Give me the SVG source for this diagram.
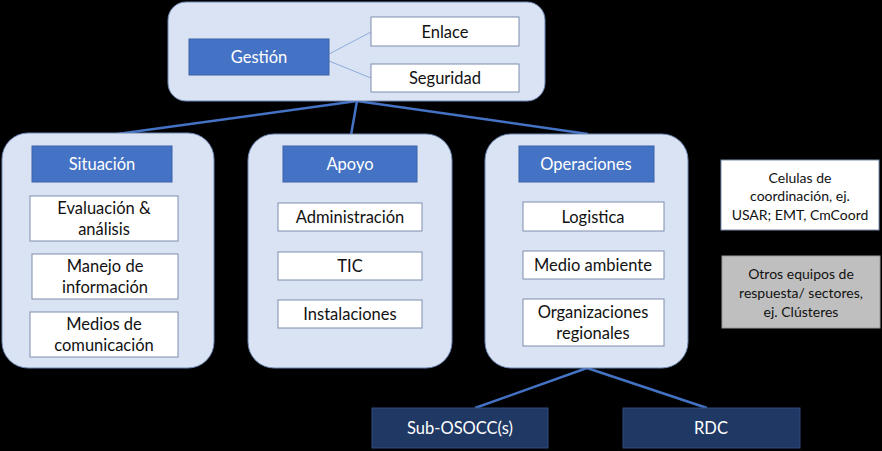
<svg xmlns="http://www.w3.org/2000/svg" width="882" height="451" viewBox="0 0 882 451">
<style>
.cont{fill:#dae3f3;stroke:#6f86b3;stroke-width:1}
.hdr{fill:#4472c4;stroke:#3a62a8;stroke-width:1}
.box{fill:#ffffff;stroke:#7c8eae;stroke-width:1}
.gray{fill:#bfbfbf;stroke:#9a9a9a;stroke-width:1}
.navy{fill:#203864;stroke:#2f4b7c;stroke-width:1}
text{font-family:Lato,"Open Sans","Liberation Sans",sans-serif;text-anchor:middle;dominant-baseline:central}
.t{font-size:16.5px;fill:#111}
.w{font-size:16.5px;fill:#ffffff}
.s{font-size:14px;fill:#111}
.con{stroke:#4472c4;stroke-width:2.5;fill:none}
.thin{stroke:#8faadc;stroke-width:1;fill:none}
</style>
<rect width="882" height="451" fill="#000"/>
<g id="connectors">
<line class="con" x1="357" y1="101" x2="110" y2="135"/>
<line class="con" x1="357" y1="101" x2="351" y2="135"/>
<line class="con" x1="357" y1="101" x2="588" y2="134"/>
<line class="con" x1="587" y1="368" x2="475" y2="408"/>
<line class="con" x1="587" y1="368" x2="707" y2="408"/>
</g>
<g id="gestion-container">
<rect class="cont" x="168" y="2" width="377" height="99" rx="18"/>
</g>
<g id="gestion-links">
<line class="thin" x1="329" y1="54" x2="371" y2="32"/>
<line class="thin" x1="329" y1="61" x2="371" y2="78"/>
</g>
<g id="gestion"><rect class="hdr" x="189" y="39" width="140" height="36"/><text class="w" x="259" y="57">Gestión</text></g>
<g id="enlace"><rect class="box" x="371" y="17" width="148" height="29"/><text class="t" x="445" y="31.5">Enlace</text></g>
<g id="seguridad"><rect class="box" x="371" y="64" width="148" height="28"/><text class="t" x="445" y="78">Seguridad</text></g>

<g id="situacion-container"><rect class="cont" x="2" y="133" width="212" height="235" rx="26"/></g>
<g id="situacion"><rect class="hdr" x="32" y="146" width="140" height="36"/><text class="w" x="102" y="164">Situación</text></g>
<g id="evaluacion"><rect class="box" x="30" y="196" width="148" height="45"/><text class="t" x="104" y="208">Evaluación &amp;</text><text class="t" x="104" y="229">análisis</text></g>
<g id="manejo"><rect class="box" x="32" y="254" width="146" height="45"/><text class="t" x="105" y="266">Manejo de</text><text class="t" x="105" y="287">información</text></g>
<g id="medios"><rect class="box" x="30" y="312" width="148" height="45"/><text class="t" x="104" y="324">Medios de</text><text class="t" x="104" y="345">comunicación</text></g>

<g id="apoyo-container"><rect class="cont" x="248" y="134" width="204" height="234" rx="26"/></g>
<g id="apoyo"><rect class="hdr" x="283" y="146" width="134" height="36"/><text class="w" x="350" y="164">Apoyo</text></g>
<g id="administracion"><rect class="box" x="278" y="203" width="144" height="28"/><text class="t" x="350" y="217">Administración</text></g>
<g id="tic"><rect class="box" x="278" y="252" width="144" height="28"/><text class="t" x="350" y="266">TIC</text></g>
<g id="instalaciones"><rect class="box" x="278" y="300" width="144" height="28"/><text class="t" x="350" y="314">Instalaciones</text></g>

<g id="operaciones-container"><rect class="cont" x="485" y="134" width="203" height="234" rx="26"/></g>
<g id="operaciones"><rect class="hdr" x="519" y="146" width="135" height="36"/><text class="w" x="586" y="164">Operaciones</text></g>
<g id="logistica"><rect class="box" x="523" y="202" width="141" height="29"/><text class="t" x="593" y="216.5">Logistica</text></g>
<g id="medio-ambiente"><rect class="box" x="523" y="251" width="141" height="28"/><text class="t" x="593" y="265">Medio ambiente</text></g>
<g id="organizaciones"><rect class="box" x="523" y="299" width="141" height="47"/><text class="t" x="593" y="312">Organizaciones</text><text class="t" x="593" y="333">regionales</text></g>

<g id="celulas"><rect class="box" x="721" y="160" width="158" height="70"/><text class="s" x="800" y="177">Celulas de</text><text class="s" x="800" y="195">coordinación, ej.</text><text class="s" x="800" y="214">USAR; EMT, CmCoord</text></g>
<g id="otros"><rect class="gray" x="722" y="256" width="158" height="72"/><text class="s" x="801" y="273">Otros equipos de</text><text class="s" x="801" y="292">respuesta/ sectores,</text><text class="s" x="801" y="311">ej. Clústeres</text></g>

<g id="sub-osocc"><rect class="navy" x="372" y="408" width="176" height="40"/><text class="w" x="460" y="428">Sub-OSOCC(s)</text></g>
<g id="rdc"><rect class="navy" x="623" y="408" width="177" height="40"/><text class="w" x="711" y="428">RDC</text></g>
</svg>
